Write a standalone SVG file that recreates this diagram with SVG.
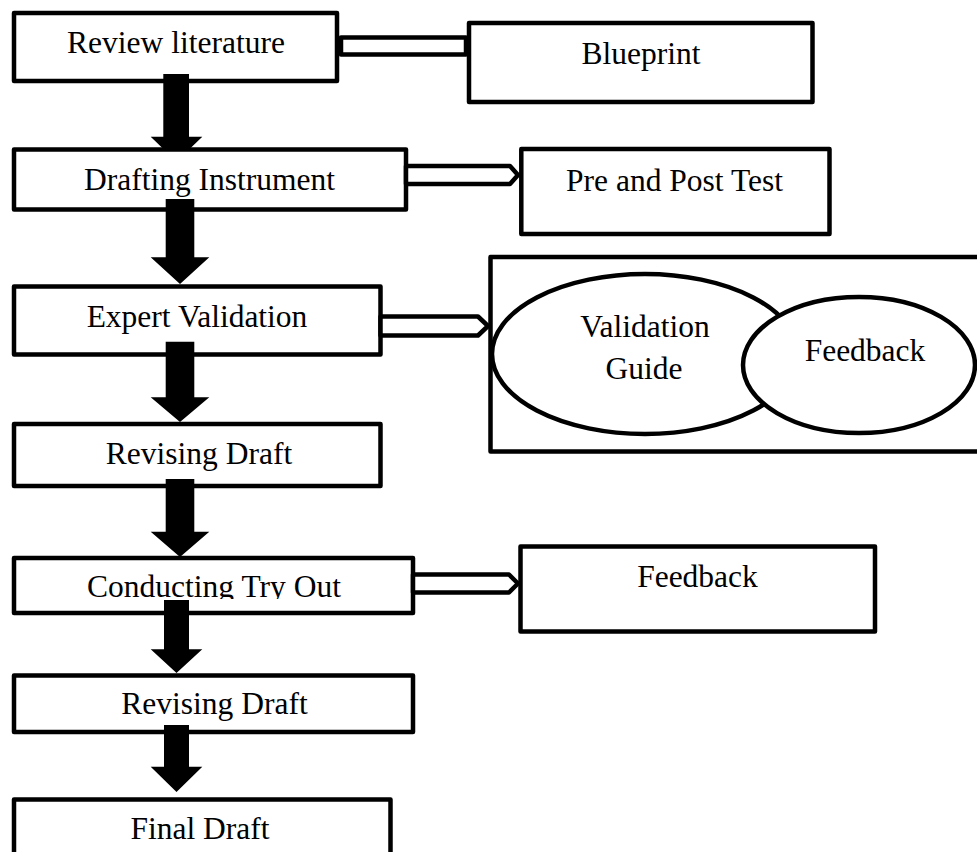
<svg xmlns="http://www.w3.org/2000/svg" width="977" height="852" viewBox="0 0 977 852">
<style>
.box{fill:#fff;stroke:#000;stroke-width:4.5;stroke-linejoin:round}
.oval{fill:#fff;stroke:#000;stroke-width:4.5}
.t{font-family:"Liberation Serif","Times New Roman",serif;font-size:31.5px;fill:#000;text-anchor:middle}
.hollow{fill:#fff;stroke:#000;stroke-width:4.5;stroke-linejoin:round}
.solid{fill:#000;stroke:none}
</style>
<defs>
<clipPath id="clipTry" clipPathUnits="userSpaceOnUse"><rect x="16" y="560" width="395" height="39"/></clipPath>
</defs>
<rect width="977" height="852" fill="#fff"/>
<g id="n-review"><rect class="box" x="14" y="13" width="323" height="68"/><text class="t" x="176" y="53.3">Review literature</text></g>
<g id="n-blueprint"><rect class="box" x="469" y="23" width="343.5" height="79"/><text class="t" x="641" y="63.5">Blueprint</text></g>
<g id="n-drafting"><rect class="box" x="14" y="149.5" width="392" height="60"/><text class="t" x="209.5" y="190">Drafting Instrument</text></g>
<g id="n-prepost"><rect class="box" x="521.3" y="149" width="308.2" height="85"/><text class="t" x="674.5" y="190.5">Pre and Post Test</text></g>
<g id="n-expert"><rect class="box" x="14" y="286.5" width="366.5" height="68"/><text class="t" x="197" y="327.3">Expert Validation</text></g>
<g id="n-validation-group">
<rect class="box" x="490.5" y="257" width="520" height="194.5"/>
<g id="n-guide"><ellipse class="oval" cx="645" cy="354" rx="153" ry="80"/><text class="t" x="645" y="336.7">Validation</text><text class="t" x="644" y="379">Guide</text></g>
<g id="n-feedback1"><ellipse class="oval" cx="859" cy="365" rx="116" ry="68"/><text class="t" x="865" y="360.5">Feedback</text></g>
</g>
<g id="n-revising1"><rect class="box" x="14" y="424" width="366.5" height="62"/><text class="t" x="199" y="464">Revising Draft</text></g>
<g id="n-tryout"><rect class="box" x="14" y="558" width="399" height="55"/><text class="t" x="214" y="596.7" clip-path="url(#clipTry)">Conducting Try Out</text></g>
<g id="n-feedback2"><rect class="box" x="520.5" y="546.5" width="354.5" height="85"/><text class="t" x="697.5" y="587">Feedback</text></g>
<g id="n-revising2"><rect class="box" x="14" y="675.5" width="399" height="56.5"/><text class="t" x="214.5" y="714">Revising Draft</text></g>
<g id="n-final"><rect class="box" x="14" y="799.5" width="376.5" height="100"/><text class="t" x="200" y="839.3">Final Draft</text></g>
<g id="connectors">
<polygon class="hollow" points="341,37.5 466,37.5 466,54.5 341,54.5"/>
<polygon class="hollow" points="406,166 510,166 518,175 510,184 406,184"/>
<polygon class="hollow" points="380.5,316.5 478,316.5 488,326 478,335.5 380.5,335.5"/>
<polygon class="hollow" points="413,574.5 509,574.5 518,583.5 509,592.5 413,592.5"/>
<polygon class="solid" points="163.3,74 189,74 189,136.7 202.3,136.7 189.6,149 163.4,149 150.7,136.7 163.3,136.7"/>
<polygon class="solid" points="165.7,199 194.3,199 194.3,257.3 209.3,257.3 180,284 150.7,257.3 165.7,257.3"/>
<polygon class="solid" points="165.7,341.7 194.3,341.7 194.3,397.3 209.3,397.3 180,422 150.7,397.3 165.7,397.3"/>
<polygon class="solid" points="165.7,479 194.3,479 194.3,531.7 209.3,531.7 180,557 150.7,531.7 165.7,531.7"/>
<polygon class="solid" points="164,600 189,600 189,649.3 202.3,649.3 176.5,673 150.7,649.3 164,649.3"/>
<polygon class="solid" points="164,725 189,725 189,766.7 202.3,766.7 176.5,792 150.7,766.7 164,766.7"/>
</g>
</svg>
